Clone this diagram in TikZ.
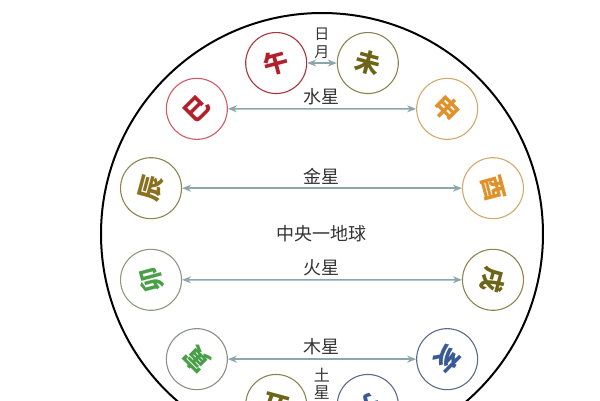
\documentclass[tikz,border=0pt]{standalone}
\usepackage{fontspec}
\setmainfont{Noto Sans CJK SC}
\usetikzlibrary{arrows.meta}

\definecolor{arrowgray}{HTML}{8CA6AB}
\definecolor{labelgray}{HTML}{333333}
\definecolor{redtext}{HTML}{B3202A}
\definecolor{rededge}{HTML}{A8343C}
\definecolor{pinkedge}{HTML}{D05A66}
\definecolor{olivetext}{HTML}{6E6418}
\definecolor{oliveedge}{HTML}{8C8450}
\definecolor{orangetext}{HTML}{DF922C}
\definecolor{orangeedge}{HTML}{D2AA6C}
\definecolor{browntext}{HTML}{8A7020}
\definecolor{greentext}{HTML}{4AA048}
\definecolor{greenedge}{HTML}{8A9A80}
\definecolor{grayedge}{HTML}{8A9088}
\definecolor{bluetext}{HTML}{3A5A96}
\definecolor{blueedge}{HTML}{5A6A8A}

\begin{document}
\begin{tikzpicture}[x=1pt,y=1pt]
    \tikzstyle{branch}=[circle,draw,line width=1.1pt,minimum size=61pt,inner sep=0pt,font=\fontsize{25}{25}\selectfont\bfseries]
    \tikzstyle{link}=[line width=1.6pt,color=arrowgray,{Stealth[length=9pt,width=7pt]}-{Stealth[length=9pt,width=7pt]}]
    \tikzstyle{planet}=[font=\fontsize{18}{18}\selectfont,text=labelgray]
    \useasboundingbox (-322,-166) rectangle (278,234);
    \clip (-322,-166) rectangle (278,234);
    \draw[line width=2pt] (0,0) circle (221);

    % twelve branches round the earth
    \node at (105:177) (wu) [branch, rotate=15, draw=rededge, text=redtext] {午};
    \node at (75:177) (wei) [branch, rotate=-15, draw=oliveedge, text=olivetext] {未};
    \node at (135:177) (si) [branch, rotate=45, draw=pinkedge, text=redtext] {巳};
    \node at (45:177) (shen) [branch, rotate=-45, draw=orangeedge, text=orangetext] {申};
    \node at (165:177) (chen) [branch, rotate=75, draw=oliveedge, text=browntext] {辰};
    \node at (15:177) (you) [branch, rotate=-75, draw=orangeedge, text=orangetext] {酉};
    \node at (195:177) (mao) [branch, rotate=105, draw=greenedge, text=greentext] {卯};
    \node at (-15:177) (xu) [branch, rotate=-105, draw=oliveedge, text=olivetext] {戌};
    \node at (225:177) (yin) [branch, rotate=135, draw=grayedge, text=greentext] {寅};
    \node at (-45:177) (hai) [branch, rotate=-135, draw=blueedge, text=bluetext] {亥};
    \node at (255:177) (chou) [branch, rotate=165, draw=oliveedge, text=olivetext] {丑};
    \node at (-75:177) (zi) [branch, rotate=-165, draw=blueedge, text=bluetext] {子};

    \draw[link] (wu) -- (wei) node [midway, above=0pt, planet, align=center, font=\fontsize{15}{18}\selectfont] {日\\月};
    \draw[link] (si) -- (shen) node [midway, above=0pt, planet] {水星};
    \draw[link] (chen) -- (you) node [midway, above=0pt, planet] {金星};
    \draw[link] (mao) -- (xu) node [midway, above=0pt, planet] {火星};
    \draw[link] (yin) -- (hai) node [midway, above=0pt, planet] {木星};

    \node at (0,0) (earth) [planet] {中央一地球};
    \node at (0,-150) (saturn) [planet, align=center, font=\fontsize{16}{17}\selectfont] {土\\星};

\end{tikzpicture}
\end{document}
